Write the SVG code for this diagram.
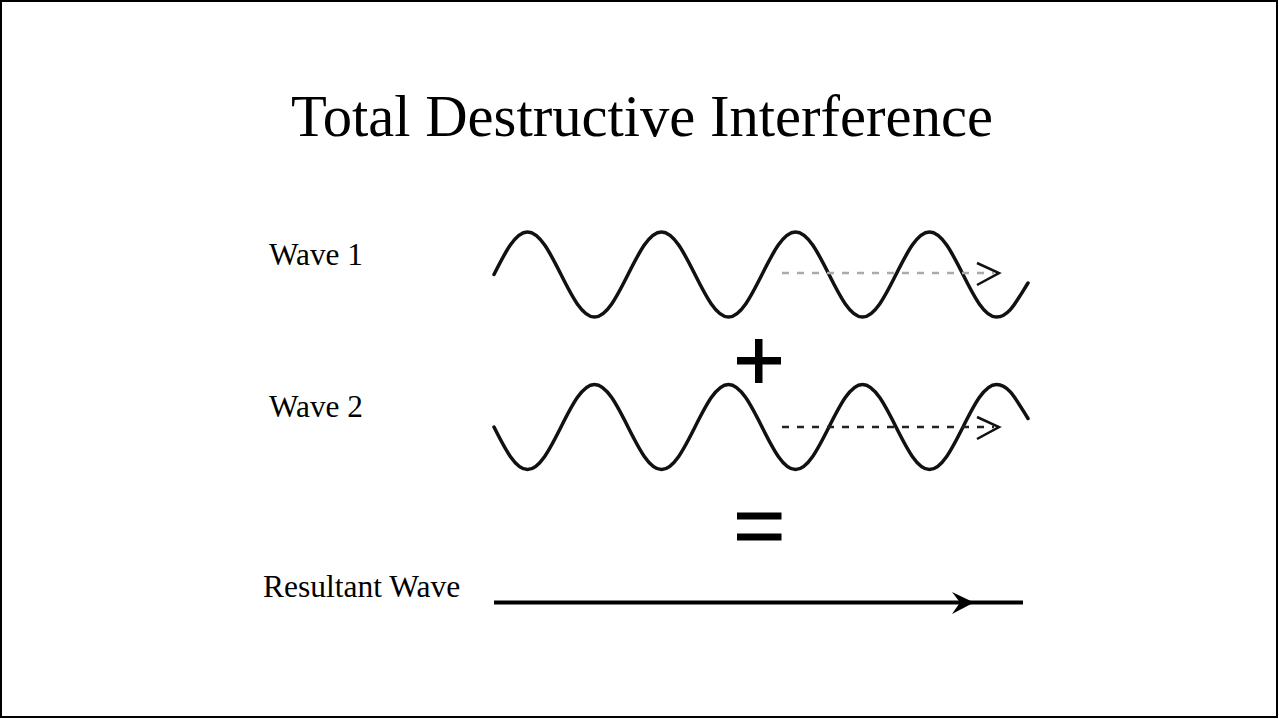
<svg xmlns="http://www.w3.org/2000/svg" width="1279" height="719" viewBox="0 0 1279 719">
<style>
.lbl{font-family:"Liberation Serif","Times New Roman",serif;fill:#000}
.wave{fill:none;stroke:#111;stroke-width:3.5;stroke-linecap:round}
.bar{fill:#000}
</style>
<rect x="1" y="1" width="1276" height="716" fill="#fff" stroke="#000" stroke-width="2"/>
<g id="title"><text class="lbl" x="642" y="136" font-size="58.6" text-anchor="middle">Total Destructive Interference</text></g>
<g id="label-wave1"><text class="lbl" x="269" y="265" font-size="31.3">Wave 1</text></g>
<g id="label-wave2"><text class="lbl" x="269" y="417" font-size="31.3">Wave 2</text></g>
<g id="label-resultant"><text class="lbl" x="263" y="597" font-size="31.5">Resultant Wave</text></g>
<g id="wave1"><path class="wave" d="M494,274.5 c10.93,-21.77 21.38,-42.5 33.5,-42.5 s22.57,20.73 33.5,42.5 s21.38,42.5 33.5,42.5 s22.57,-20.73 33.5,-42.5 s21.38,-42.5 33.5,-42.5 s22.57,20.73 33.5,42.5 s21.38,42.5 33.5,42.5 s22.57,-20.73 33.5,-42.5 s21.38,-42.5 33.5,-42.5 s22.57,20.73 33.5,42.5 s21.38,42.5 33.5,42.5 s22.57,-20.73 33.5,-42.5 s21.38,-42.5 33.5,-42.5 s22.57,20.73 33.5,42.5 s21.38,42.5 33.5,42.5 s19,-14 31.5,-34"/></g>
<g id="wave2"><path class="wave" d="M494,427 c10.93,21.77 21.38,42.5 33.5,42.5 s22.57,-20.73 33.5,-42.5 s21.38,-42.5 33.5,-42.5 s22.57,20.73 33.5,42.5 s21.38,42.5 33.5,42.5 s22.57,-20.73 33.5,-42.5 s21.38,-42.5 33.5,-42.5 s22.57,20.73 33.5,42.5 s21.38,42.5 33.5,42.5 s22.57,-20.73 33.5,-42.5 s21.38,-42.5 33.5,-42.5 s22.57,20.73 33.5,42.5 s21.38,42.5 33.5,42.5 s22.57,-20.73 33.5,-42.5 s21.38,-42.5 33.5,-42.5 s19,14 31.5,34"/></g>
<g id="plus"><rect class="bar" x="755" y="339" width="7.5" height="44"/><rect class="bar" x="737" y="357" width="44" height="7.5"/></g>
<g id="equals"><rect class="bar" x="737" y="512.5" width="44.5" height="7"/><rect class="bar" x="737" y="533.5" width="44.5" height="7"/></g>
<g id="connectors">
<line x1="782" y1="273" x2="994" y2="273" stroke="#aaa" stroke-width="2.5" stroke-dasharray="7 8"/>
<path d="M977,263 L999,273 L977,285" fill="none" stroke="#111" stroke-width="2.5"/>
<line x1="782" y1="427" x2="994" y2="427" stroke="#222" stroke-width="2.5" stroke-dasharray="7 8"/>
<path d="M977,417 L999,427 L977,439" fill="none" stroke="#111" stroke-width="2.5"/>
<line x1="494" y1="602.5" x2="1023" y2="602.5" stroke="#000" stroke-width="4"/>
<path d="M952,592 L974,602.5 L952,614 L960,602.5 Z" fill="#000"/>
</g>
</svg>
